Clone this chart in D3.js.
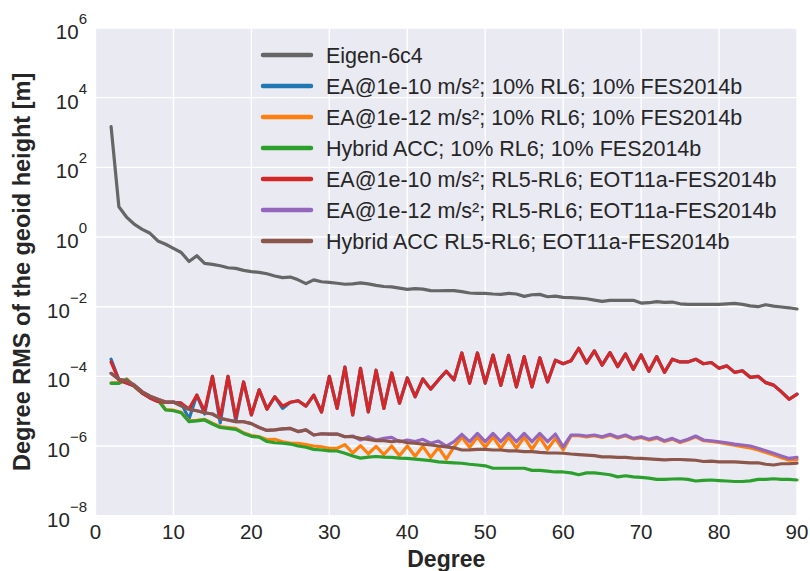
<!DOCTYPE html>
<html>
<head>
<meta charset="utf-8">
<script src="https://cdn.jsdelivr.net/npm/d3@7"></script>
<style>
  body { margin: 0; background: #fff; }
  text { font-family: "Liberation Sans", Arial, sans-serif; fill: #262626; }
</style>
</head>
<body>
<svg width="810" height="571"></svg>
<script>
// spherical harmonic degrees 2..90
const degrees = d3.range(2, 91);

const eigen6c4 = [
  1470, 7.4, 3.7, 2.3, 1.66, 1.28, 0.77, 0.62, 0.47,
  0.36, 0.198, 0.29, 0.175, 0.164, 0.150, 0.131, 0.126, 0.110, 0.101,
  0.097, 0.088, 0.076, 0.068, 0.071, 0.059, 0.046, 0.059, 0.052, 0.050,
  0.047, 0.044, 0.045, 0.048, 0.045, 0.041, 0.038, 0.037, 0.034, 0.0315,
  0.033, 0.032, 0.029, 0.0287, 0.029, 0.029, 0.027, 0.0247, 0.0242, 0.0242,
  0.0231, 0.0226, 0.0242, 0.0231, 0.0198, 0.0220, 0.0226, 0.0193, 0.0202, 0.0185,
  0.0181, 0.0177, 0.0169, 0.0155, 0.0142, 0.0152, 0.0152, 0.0152, 0.0152, 0.0127,
  0.0130, 0.0139, 0.0133, 0.0136, 0.0121, 0.0117, 0.0117, 0.0117, 0.0117, 0.0117,
  0.0121, 0.0125, 0.0117, 0.0106, 0.0100, 0.0114, 0.0104, 0.0098, 0.0093, 0.0086
];

const ea10_rl6 = [
  3.1e-4, 7.9e-5, 6.4e-5, 5.3e-5, 3.3e-5, 2.4e-5, 1.9e-5, 1.8e-5, 1.8e-5,
  1.7e-5, 6.0e-6, 2.9e-5, 8.3e-6, 1.0e-4, 4.6e-6, 1.0e-4, 5.2e-6, 6.9e-5, 7.8e-6,
  4.1e-5, 1.15e-5, 2.6e-5, 1.2e-5, 1.8e-5, 2.0e-5, 1.4e-5, 2.9e-5, 9.5e-6, 1.0e-4,
  1.2e-5, 1.85e-4, 7.8e-6, 1.7e-4, 9.5e-6, 1.5e-4, 1.2e-5, 1.25e-4, 1.7e-5, 9.0e-5,
  2.6e-5, 8.4e-5, 4.3e-5, 7.9e-5, 1.4e-4, 7.9e-5, 4.7e-4, 6.4e-5, 4.7e-4, 6.4e-5,
  4.1e-4, 5.5e-5, 4.0e-4, 5.0e-5, 3.7e-4, 5.0e-5, 3.4e-4, 6.9e-5, 2.9e-4, 2.3e-4,
  2.8e-4, 6.4e-4, 2.4e-4, 5.4e-4, 2.1e-4, 4.8e-4, 1.9e-4, 4.4e-4, 1.6e-4, 4.1e-4,
  1.4e-4, 3.7e-4, 1.3e-4, 3.1e-4, 2.6e-4, 2.6e-4, 3.1e-4, 2.3e-4, 2.5e-4, 1.7e-4,
  2.0e-4, 1.3e-4, 1.45e-4, 9.4e-5, 1.0e-4, 6.6e-5, 5.6e-5, 3.6e-5, 2.2e-5, 3.1e-5
];

const ea12_rl6 = [
  6.5e-5, 6.5e-5, 8.4e-5, 5.2e-5, 3.4e-5, 2.6e-5, 2.2e-5, 1.12e-5, 1.07e-5,
  9.3e-6, 5.3e-6, 5.5e-6, 5.8e-6, 4.5e-6, 3.6e-6, 3.4e-6, 3.2e-6, 2.4e-6, 2.0e-6,
  1.85e-6, 1.54e-6, 1.56e-6, 1.33e-6, 1.22e-6, 1.2e-6, 1.1e-6, 1.0e-6, 9.5e-7, 8.6e-7,
  8.6e-7, 1.1e-6, 6.3e-7, 1.03e-6, 6.0e-7, 9.8e-7, 5.7e-7, 1.0e-6, 5.3e-7, 1.0e-6,
  5.1e-7, 9.8e-7, 4.7e-7, 9.1e-7, 4.2e-7, 9.4e-7, 1.8e-6, 9.2e-7, 1.8e-6, 9.2e-7,
  1.8e-6, 8.6e-7, 1.8e-6, 8.6e-7, 1.8e-6, 8.0e-7, 1.78e-6, 8.0e-7, 1.66e-6, 7.7e-7,
  1.97e-6, 1.97e-6, 1.84e-6, 1.97e-6, 1.76e-6, 2.06e-6, 1.69e-6, 1.97e-6, 1.58e-6, 1.76e-6,
  1.48e-6, 1.69e-6, 1.35e-6, 1.58e-6, 1.26e-6, 1.48e-6, 1.84e-6, 1.42e-6, 1.35e-6, 1.26e-6,
  1.15e-6, 1.05e-6, 9.6e-7, 8.8e-7, 7.7e-7, 6.5e-7, 5.5e-7, 4.6e-7, 3.9e-7, 4.1e-7
];

const hybrid_rl6 = [
  6.3e-5, 6.3e-5, 8.2e-5, 5.0e-5, 3.3e-5, 2.5e-5, 2.1e-5, 1.08e-5, 1.03e-5,
  9.0e-6, 5.0e-6, 5.3e-6, 5.6e-6, 4.3e-6, 3.4e-6, 3.2e-6, 3.0e-6, 2.3e-6, 1.9e-6,
  1.8e-6, 1.35e-6, 1.24e-6, 1.2e-6, 1.14e-6, 1.0e-6, 9.2e-7, 8.0e-7, 7.7e-7, 7.3e-7,
  7.2e-7, 6.2e-7, 5.2e-7, 4.5e-7, 4.8e-7, 5.0e-7, 4.8e-7, 4.7e-7, 4.5e-7, 4.4e-7,
  4.2e-7, 4.0e-7, 3.8e-7, 3.5e-7, 3.4e-7, 3.3e-7, 3.2e-7, 3.0e-7, 2.85e-7, 2.7e-7,
  2.3e-7, 2.3e-7, 2.3e-7, 2.3e-7, 2.3e-7, 2.0e-7, 2.0e-7, 1.9e-7, 1.8e-7, 1.8e-7,
  1.7e-7, 1.5e-7, 1.7e-7, 1.7e-7, 1.6e-7, 1.5e-7, 1.3e-7, 1.4e-7, 1.3e-7, 1.26e-7,
  1.2e-7, 1.1e-7, 1.1e-7, 1.13e-7, 1.15e-7, 1.1e-7, 9.9e-8, 1.03e-7, 1.06e-7, 1.02e-7,
  9.9e-8, 9.6e-8, 9.6e-8, 1.0e-7, 1.1e-7, 1.1e-7, 1.15e-7, 1.1e-7, 1.1e-7, 1.06e-7
];

const ea10_rl56 = [
  2.58e-4, 7.9e-5, 6.4e-5, 5.3e-5, 3.3e-5, 2.4e-5, 1.9e-5, 1.8e-5, 1.8e-5,
  1.7e-5, 1.15e-5, 2.9e-5, 1.0e-5, 1.0e-4, 6.4e-6, 1.0e-4, 6.4e-6, 6.9e-5, 7.8e-6,
  4.1e-5, 1.15e-5, 2.6e-5, 1.4e-5, 1.8e-5, 2.0e-5, 1.4e-5, 2.9e-5, 9.5e-6, 1.0e-4,
  1.2e-5, 1.85e-4, 7.8e-6, 1.7e-4, 9.5e-6, 1.5e-4, 1.2e-5, 1.25e-4, 1.7e-5, 9.0e-5,
  2.6e-5, 8.4e-5, 4.3e-5, 7.9e-5, 1.4e-4, 7.9e-5, 4.7e-4, 6.4e-5, 4.7e-4, 6.4e-5,
  4.1e-4, 5.5e-5, 4.0e-4, 5.0e-5, 3.7e-4, 5.0e-5, 3.4e-4, 6.9e-5, 2.9e-4, 2.3e-4,
  2.8e-4, 6.4e-4, 2.4e-4, 5.4e-4, 2.1e-4, 4.8e-4, 1.9e-4, 4.4e-4, 1.6e-4, 4.1e-4,
  1.4e-4, 3.7e-4, 1.3e-4, 3.1e-4, 2.6e-4, 2.6e-4, 3.1e-4, 2.3e-4, 2.5e-4, 1.7e-4,
  2.0e-4, 1.3e-4, 1.45e-4, 9.4e-5, 1.0e-4, 6.6e-5, 5.6e-5, 3.6e-5, 2.2e-5, 3.1e-5
];

const ea12_rl56 = [
  1.22e-4, 8.2e-5, 7.5e-5, 5.6e-5, 3.6e-5, 2.7e-5, 2.2e-5, 1.83e-5, 1.83e-5,
  1.44e-5, 1.13e-5, 1.03e-5, 9.0e-6, 8.3e-6, 6.2e-6, 5.6e-6, 5.0e-6, 5.0e-6, 4.4e-6,
  3.4e-6, 2.8e-6, 2.9e-6, 3.1e-6, 3.2e-6, 2.6e-6, 2.9e-6, 2.07e-6, 2.25e-6, 2.21e-6,
  2.21e-6, 1.85e-6, 1.94e-6, 1.49e-6, 1.85e-6, 1.49e-6, 1.66e-6, 1.78e-6, 1.33e-6, 1.49e-6,
  1.35e-6, 1.56e-6, 1.2e-6, 1.39e-6, 1.0e-6, 1.33e-6, 2.17e-6, 1.33e-6, 2.31e-6, 1.33e-6,
  2.31e-6, 1.33e-6, 2.31e-6, 1.33e-6, 2.31e-6, 1.33e-6, 2.31e-6, 1.33e-6, 2.21e-6, 9.5e-7,
  2.07e-6, 2.07e-6, 1.94e-6, 2.07e-6, 1.85e-6, 2.17e-6, 1.78e-6, 2.07e-6, 1.66e-6, 1.85e-6,
  1.56e-6, 1.78e-6, 1.42e-6, 1.66e-6, 1.33e-6, 1.56e-6, 1.94e-6, 1.49e-6, 1.42e-6, 1.33e-6,
  1.24e-6, 1.14e-6, 1.07e-6, 1.0e-6, 8.6e-7, 7.3e-7, 6.2e-7, 5.2e-7, 4.4e-7, 4.7e-7
];

const hybrid_rl56 = [
  1.22e-4, 8.2e-5, 7.5e-5, 5.6e-5, 3.6e-5, 2.7e-5, 2.2e-5, 1.83e-5, 1.83e-5,
  1.44e-5, 1.13e-5, 1.03e-5, 9.0e-6, 8.3e-6, 6.2e-6, 5.6e-6, 5.0e-6, 5.0e-6, 4.4e-6,
  3.4e-6, 2.8e-6, 2.9e-6, 3.1e-6, 3.2e-6, 2.6e-6, 2.9e-6, 2.07e-6, 2.25e-6, 2.21e-6,
  2.21e-6, 1.85e-6, 1.85e-6, 1.66e-6, 1.56e-6, 1.42e-6, 1.42e-6, 1.33e-6, 1.42e-6, 1.24e-6,
  1.2e-6, 1.14e-6, 1.07e-6, 1.0e-6, 9.5e-7, 8.9e-7, 7.7e-7, 7.8e-7, 8.0e-7, 8.0e-7,
  7.7e-7, 7.7e-7, 7.3e-7, 7.3e-7, 6.9e-7, 6.9e-7, 6.6e-7, 6.4e-7, 6.3e-7, 6.2e-7,
  5.9e-7, 5.7e-7, 5.5e-7, 5.3e-7, 4.9e-7, 4.9e-7, 4.7e-7, 4.7e-7, 4.5e-7, 4.4e-7,
  4.3e-7, 4.15e-7, 4.0e-7, 4.1e-7, 4.1e-7, 4.0e-7, 3.9e-7, 3.6e-7, 3.7e-7, 3.5e-7,
  3.5e-7, 3.5e-7, 3.4e-7, 3.3e-7, 3.3e-7, 3.0e-7, 2.85e-7, 3.1e-7, 3.1e-7, 3.25e-7
];

const seriesNames = [
  "Eigen-6c4",
  "EA@1e-10 m/s²; 10% RL6; 10% FES2014b",
  "EA@1e-12 m/s²; 10% RL6; 10% FES2014b",
  "Hybrid ACC; 10% RL6; 10% FES2014b",
  "EA@1e-10 m/s²; RL5-RL6; EOT11a-FES2014b",
  "EA@1e-12 m/s²; RL5-RL6; EOT11a-FES2014b",
  "Hybrid ACC RL5-RL6; EOT11a-FES2014b"
];
const seriesValues = [eigen6c4, ea10_rl6, ea12_rl6, hybrid_rl6, ea10_rl56, ea12_rl56, hybrid_rl56];
const colors = ["#666666", "#1f77b4", "#ff7f0e", "#2ca02c", "#d62728", "#9467bd", "#8c564b"];

const xTicks = [0, 10, 20, 30, 40, 50, 60, 70, 80, 90];
const yExponents = [-8, -6, -4, -2, 0, 2, 4, 6];

const svg = d3.select("svg");
const plotLeft = 95.5, plotRight = 797, plotTop = 28, plotBottom = 515.7;

const x = d3.scaleLinear().domain([0, 90]).range([plotLeft, plotRight]);
const y = d3.scaleLog().domain([1e-8, 1e6]).range([plotBottom, plotTop]);

svg.append("rect")
  .attr("x", plotLeft).attr("y", plotTop)
  .attr("width", plotRight - plotLeft).attr("height", plotBottom - plotTop)
  .attr("fill", "#eaeaf2");

// grid
svg.append("g").selectAll("line")
  .data(xTicks)
  .join("line")
  .attr("x1", d => x(d)).attr("x2", d => x(d))
  .attr("y1", plotTop).attr("y2", plotBottom)
  .attr("stroke", "#fff").attr("stroke-width", 1.4);

svg.append("g").selectAll("line")
  .data(yExponents)
  .join("line")
  .attr("x1", plotLeft).attr("x2", plotRight)
  .attr("y1", d => y(Math.pow(10, d))).attr("y2", d => y(Math.pow(10, d)))
  .attr("stroke", "#fff").attr("stroke-width", 1.4);

// tick labels
svg.append("g").selectAll("text")
  .data(xTicks)
  .join("text")
  .attr("x", d => x(d))
  .attr("y", 539)
  .attr("text-anchor", "middle")
  .style("font-size", "20.5px")
  .text(d => d);

const yLab = svg.append("g").selectAll("text")
  .data(yExponents)
  .join("text")
  .attr("x", 87)
  .attr("y", d => y(Math.pow(10, d)) + 11)
  .attr("text-anchor", "end")
  .style("font-size", "20.5px");
yLab.append("tspan").text("10");
yLab.append("tspan")
  .attr("dy", -15)
  .style("font-size", "15px")
  .text(d => d < 0 ? "\u2212" + (-d) : d);

// axis titles
svg.append("text")
  .attr("x", (plotLeft + plotRight) / 2)
  .attr("y", 567)
  .attr("text-anchor", "middle")
  .style("font-size", "23px")
  .style("font-weight", "bold")
  .text("Degree");

svg.append("text")
  .attr("transform", `translate(30,${(plotTop + plotBottom) / 2}) rotate(-90)`)
  .attr("text-anchor", "middle")
  .style("font-size", "23.5px")
  .style("font-weight", "bold")
  .text("Degree RMS of the geoid height [m]");

// lines
const line = d3.line()
  .x((d, i) => x(degrees[i]))
  .y(d => y(d));

svg.append("g").selectAll("path")
  .data(seriesValues)
  .join("path")
  .attr("d", line)
  .attr("fill", "none")
  .attr("stroke", (d, i) => colors[i])
  .attr("stroke-width", 3.2)
  .attr("stroke-linejoin", "round")
  .attr("stroke-linecap", "round");

// legend
const legend = svg.append("g").selectAll("g")
  .data(seriesNames)
  .join("g")
  .attr("transform", (d, i) => `translate(263,${55 + i * 31})`);

legend.append("line")
  .attr("x1", 0).attr("x2", 48)
  .attr("stroke", (d, i) => colors[i])
  .attr("stroke-width", 4.5)
  .attr("stroke-linecap", "round");

legend.append("text")
  .attr("x", 63)
  .attr("y", 7.5)
  .style("font-size", "21.5px")
  .text(d => d);
</script>
</body>
</html>
